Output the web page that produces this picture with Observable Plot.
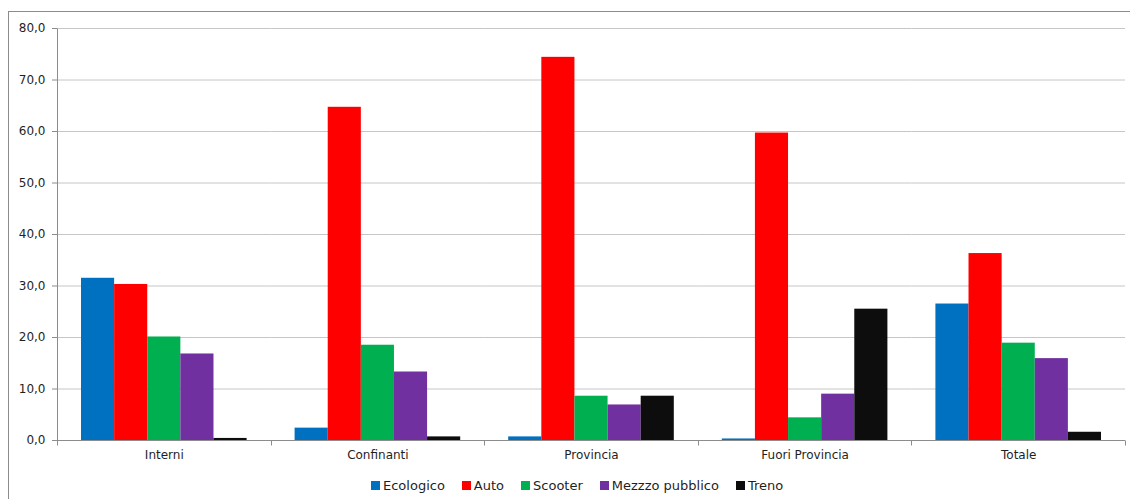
<!DOCTYPE html>
<html>
<head>
<meta charset="utf-8">
<script src="https://cdn.jsdelivr.net/npm/d3@7"></script>
<script src="https://cdn.jsdelivr.net/npm/@observablehq/plot@0.6"></script>
<style>
  html, body { margin: 0; padding: 0; background: #fff; overflow: hidden; }
  body { width: 1130px; height: 499px; position: relative; font-family: "DejaVu Sans", Verdana, sans-serif; }
  #frame { position: absolute; left: 8px; top: 11px; width: 1200px; height: 600px; border: 1px solid #8c8c8c; box-sizing: border-box; }
  #chart { position: absolute; left: 0; top: 0; }
  #legend { position: absolute; left: 371px; top: 477px; height: 16px; display: flex; align-items: center; font-size: 13px; color: #1f1f1f; white-space: nowrap; }
  #legend .item { display: flex; align-items: center; margin-right: 17px; }
  #legend .sw { width: 9px; height: 9px; margin-right: 3px; }
</style>
</head>
<body>
<div id="frame"></div>
<div id="chart"></div>
<div id="legend"></div>
<script>
// Trip destinations and the share (%) of each transport mode
const categories = ["Interni", "Confinanti", "Provincia", "Fuori Provincia", "Totale"];
const series = ["Ecologico", "Auto", "Scooter", "Mezzzo pubblico", "Treno"];
const colors = ["#0070c0", "#ff0000", "#00b050", "#7030a0", "#0d0d0d"];

const ecologico = [31.5, 2.4, 0.7, 0.3, 26.5];
const auto      = [30.3, 64.7, 74.4, 59.7, 36.3];
const scooter   = [20.1, 18.5, 8.6, 4.4, 18.9];
const mezzo     = [16.8, 13.3, 6.9, 9.0, 15.9];
const treno     = [0.4, 0.7, 8.6, 25.5, 1.6];

const yTicks = [0, 10, 20, 30, 40, 50, 60, 70, 80];

const values = [ecologico, auto, scooter, mezzo, treno];
const data = [];
categories.forEach((cat, i) => {
  series.forEach((s, j) => data.push({cat, series: s, value: values[j][i]}));
});

const fmt = d => d.toFixed(1).replace(".", ",");

const plot = Plot.plot({
  width: 1130,
  height: 470,
  marginTop: 28,
  marginBottom: 30,
  marginLeft: 57,
  marginRight: 5,
  style: {fontFamily: "DejaVu Sans, Verdana, sans-serif", fontSize: "12px", color: "#1f1f1f", background: "transparent"},
  fx: {domain: categories, padding: 0, round: false, label: null},
  x: {domain: series, paddingInner: 0, paddingOuter: 0.7246, round: false, axis: null},
  y: {domain: [0, 80], label: null},
  color: {domain: series, range: colors},
  marks: [
    Plot.gridY(yTicks, {stroke: "#c6c6c6", strokeOpacity: 1}),
    Plot.barY(data, {fx: "cat", x: "series", y: "value", fill: "series", inset: 0}),
    Plot.axisY(yTicks, {tickFormat: fmt, tickSize: 5, tickPadding: 7, stroke: "#8c8c8c", label: null}),
    Plot.axisFx({anchor: "bottom", tickSize: 0, tickPadding: 10, label: null})
  ]
});

document.getElementById("chart").appendChild(plot);

// Axis lines and group separators, placed from the plot's own scales
const fx = plot.scale("fx");
const y = plot.scale("y");
const svg = d3.select(plot);
const x0 = fx.range[0], x1 = fx.range[1];
const yZero = y.apply(0) + 0.5;
const yTop = y.apply(80) + 0.5;
const g = svg.append("g").attr("stroke", "#8c8c8c").attr("stroke-width", 1);
g.append("line").attr("x1", x0 + 0.5).attr("x2", x0 + 0.5).attr("y1", yTop).attr("y2", yZero);
g.append("line").attr("x1", x0).attr("x2", x1).attr("y1", yZero).attr("y2", yZero);
const bounds = categories.map(c => fx.apply(c)).concat([fx.apply(categories[categories.length - 1]) + fx.bandwidth]);
bounds.forEach(b => {
  const bx = Math.round(b) + 0.5;
  g.append("line").attr("x1", bx).attr("x2", bx).attr("y1", yZero).attr("y2", yZero + 5);
});

// Legend
const legend = d3.select("#legend");
series.forEach((s, i) => {
  const item = legend.append("div").attr("class", "item");
  item.append("div").attr("class", "sw").style("background", colors[i]);
  item.append("span").text(s);
});
</script>
</body>
</html>
